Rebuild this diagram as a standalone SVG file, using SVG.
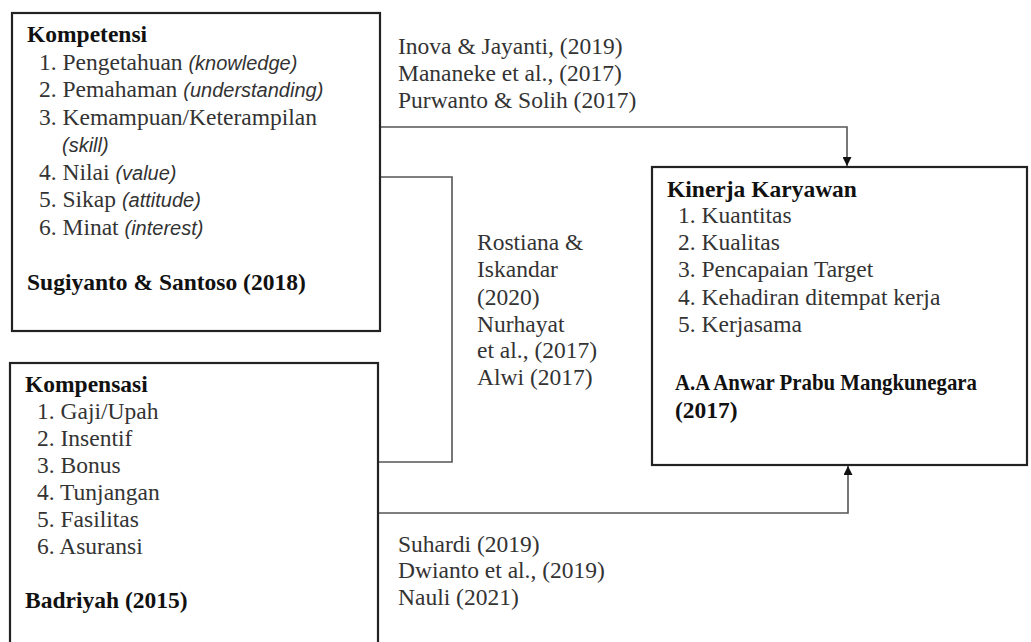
<svg xmlns="http://www.w3.org/2000/svg" width="1031" height="642" viewBox="0 0 1031 642">
<style>
text{font-family:"Liberation Serif","Times New Roman",serif;font-size:23.5px;fill:#333}
.b{font-weight:bold;fill:#111}
.i{font-family:"Liberation Sans",Arial,sans-serif;font-style:italic;font-size:20px}
.box{fill:#fff;stroke:#222;stroke-width:2.2}
.con{fill:none;stroke:#555;stroke-width:1.6}
</style>
<defs>
<marker id="ah" viewBox="0 0 10 10" refX="10" refY="5" markerWidth="9" markerHeight="9" markerUnits="userSpaceOnUse" orient="auto">
<path d="M0,0 L10,5 L0,10 Z" fill="#111"/>
</marker>
</defs>
<rect width="1031" height="642" fill="#fff"/>
<g id="connectors">
<path class="con" d="M380,127 H847 V166" marker-end="url(#ah)"/>
<path class="con" d="M380,177 H452 V462 H378"/>
<path class="con" d="M378,513 H848 V466" marker-end="url(#ah)"/>
</g>
<g id="kompetensi">
<rect class="box" x="12" y="13" width="368" height="318"/>
<text class="b" x="27" y="42">Kompetensi</text>
<text x="39" y="70">1. Pengetahuan <tspan class="i">(knowledge)</tspan></text>
<text x="39" y="97">2. Pemahaman <tspan class="i">(understanding)</tspan></text>
<text x="39" y="125">3. Kemampuan/Keterampilan</text>
<text class="i" x="62" y="152">(skill)</text>
<text x="39" y="180">4. Nilai <tspan class="i">(value)</tspan></text>
<text x="39" y="207">5. Sikap <tspan class="i">(attitude)</tspan></text>
<text x="39" y="235">6. Minat <tspan class="i">(interest)</tspan></text>
<text class="b" x="27" y="290">Sugiyanto &amp; Santoso (2018)</text>
</g>
<g id="kompensasi">
<rect class="box" x="10" y="363" width="368" height="300"/>
<text class="b" x="25" y="392">Kompensasi</text>
<text x="37" y="419">1. Gaji/Upah</text>
<text x="37" y="446">2. Insentif</text>
<text x="37" y="473">3. Bonus</text>
<text x="37" y="500">4. Tunjangan</text>
<text x="37" y="527">5. Fasilitas</text>
<text x="37" y="554">6. Asuransi</text>
<text class="b" x="25" y="608">Badriyah (2015)</text>
</g>
<g id="kinerja">
<rect class="box" x="652" y="167" width="375" height="298"/>
<text class="b" x="667" y="197">Kinerja Karyawan</text>
<text x="678" y="223">1. Kuantitas</text>
<text x="678" y="250">2. Kualitas</text>
<text x="678" y="277">3. Pencapaian Target</text>
<text x="678" y="305">4. Kehadiran ditempat kerja</text>
<text x="678" y="332">5. Kerjasama</text>
<text class="b" x="675" y="390" textLength="302" lengthAdjust="spacingAndGlyphs">A.A Anwar Prabu Mangkunegara</text>
<text class="b" x="675" y="418">(2017)</text>
</g>
<g id="labels">
<text x="398" y="54">Inova &amp; Jayanti, (2019)</text>
<text x="398" y="81">Mananeke et al., (2017)</text>
<text x="398" y="108">Purwanto &amp; Solih (2017)</text>
<text x="477" y="250">Rostiana &amp;</text>
<text x="477" y="277">Iskandar</text>
<text x="477" y="305">(2020)</text>
<text x="477" y="332">Nurhayat</text>
<text x="477" y="358">et al., (2017)</text>
<text x="477" y="385">Alwi (2017)</text>
<text x="398" y="552">Suhardi (2019)</text>
<text x="398" y="578">Dwianto et al., (2019)</text>
<text x="398" y="605">Nauli (2021)</text>
</g>
</svg>
